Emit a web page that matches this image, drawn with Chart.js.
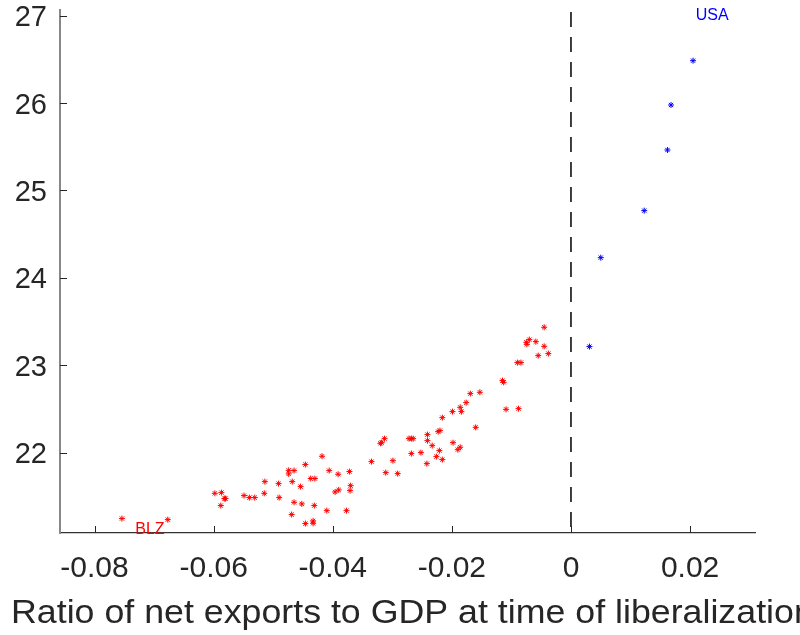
<!DOCTYPE html>
<html>
<head>
<meta charset="utf-8">
<script src="https://cdn.jsdelivr.net/npm/chart.js@4.4.1/dist/chart.umd.min.js"></script>
<style>
  html, body { margin: 0; padding: 0; background: #fff; }
  #wrap { width: 800px; height: 635px; position: relative; }
</style>
</head>
<body>
<div id="wrap"><canvas id="scatter"></canvas></div>
<script>
// countries that liberalized with a trade deficit (red) and a surplus (blue)
const deficitX = [
  -0.0754, -0.0677, -0.0598, -0.0587, -0.0580, -0.0582, -0.0588, -0.0549, -0.0540, -0.0531,
  -0.0515, -0.0514, -0.0491, -0.0490, -0.0474, -0.0465, -0.0474, -0.0468, -0.0446, -0.0454,
  -0.0465, -0.0452, -0.0469, -0.0446, -0.0433, -0.0433, -0.0431, -0.0437, -0.0430, -0.0418,
  -0.0406, -0.0391, -0.0410, -0.0396, -0.0390, -0.0372, -0.0370, -0.0371, -0.0377,
  -0.0335, -0.0311, -0.0299, -0.0291, -0.0320, -0.0318, -0.0313, -0.0272, -0.0268, -0.0265,
  -0.0268, -0.0252, -0.0242, -0.0241, -0.0241, -0.0233, -0.0226, -0.0221, -0.0216, -0.0223,
  -0.0220, -0.0216, -0.0199, -0.0186, -0.0184, -0.0176, -0.0169, -0.0153, -0.0160, -0.0198,
  -0.0190, -0.0186, -0.0115, -0.0113, -0.0109, -0.0088, -0.0090, -0.0084, -0.0075, -0.0074,
  -0.0070, -0.0059, -0.0045, -0.0045, -0.0055, -0.0038
];
const deficitY = [
  21.245, 21.233, 21.534, 21.542, 21.474, 21.474, 21.394, 21.508, 21.485, 21.485,
  21.534, 21.668, 21.645, 21.485, 21.797, 21.794, 21.756, 21.668, 21.863, 21.611,
  21.431, 21.413, 21.291, 21.188, 21.219, 21.191, 21.394, 21.703, 21.703, 21.958,
  21.794, 21.752, 21.336, 21.550, 21.573, 21.783, 21.622, 21.565, 21.336,
  21.897, 21.771, 21.908, 21.760, 22.106, 22.114, 22.160, 22.160, 22.160, 22.160,
  21.989, 22.000, 21.874, 22.206, 22.137, 22.080, 21.954, 22.023, 21.920, 22.240,
  22.252, 22.400, 22.469, 22.518, 22.469, 22.572, 22.675, 22.690, 22.289, 22.114,
  22.034, 22.061, 22.824, 22.804, 22.495, 22.503, 23.030, 23.030, 23.262, 23.239,
  23.293, 23.270, 23.434, 23.216, 23.110, 23.133
];
const surplusX = [0.0205, 0.0168, 0.0162, 0.0123, 0.0050, 0.0031];
const surplusY = [26.485, 25.978, 25.463, 24.769, 24.231, 23.213];

const noteText = ['USA', 'BLZ'];
const noteX = [0.0237, -0.0707];
const noteY = [27.0, 21.12];
const noteColor = ['#0000ff', '#ff0000'];

const xTicks = [-0.08, -0.06, -0.04, -0.02, 0, 0.02];
const xTickLabels = ['-0.08', '-0.06', '-0.04', '-0.02', '0', '0.02'];
const yTicks = [22, 23, 24, 25, 26, 27];
const yTickLabels = ['22', '23', '24', '25', '26', '27'];
const xMin = -0.0858, xMax = 0.0309;
const yMin = 21.08, yMax = 27.065;

const xTitle = 'Ratio of net exports to GDP at time of liberalization';
const ink = '#262626';
const FONT = "'Liberation Sans', Arial, sans-serif";

const toPoints = (xs, ys) => xs.map((x, i) => ({ x: x, y: ys[i] }));

// MATLAB style: tick marks point into the plot, text labels, x label
const extras = {
  id: 'extras',
  afterDatasetsDraw(chart) {
    const { ctx, chartArea: a, scales: { x, y } } = chart;
    ctx.save();
    ctx.strokeStyle = ink;
    ctx.lineWidth = 1;
    ctx.beginPath();
    xTicks.forEach(v => {
      const px = Math.round(x.getPixelForValue(v)) + 0.5;
      ctx.moveTo(px, a.bottom);
      ctx.lineTo(px, a.bottom - 7);
    });
    yTicks.forEach(v => {
      const py = Math.round(y.getPixelForValue(v)) + 0.5;
      ctx.moveTo(a.left, py);
      ctx.lineTo(a.left + 7, py);
    });
    ctx.stroke();

    ctx.font = '16px ' + FONT;
    ctx.textAlign = 'center';
    ctx.textBaseline = 'middle';
    noteText.forEach((t, i) => {
      ctx.fillStyle = noteColor[i];
      ctx.fillText(t, x.getPixelForValue(noteX[i]), y.getPixelForValue(noteY[i]));
    });

    ctx.font = '32.5px ' + FONT;
    ctx.fillStyle = ink;
    ctx.textAlign = 'left';
    ctx.textBaseline = 'alphabetic';
    ctx.translate(11, 623);
    ctx.scale(1.1, 1);
    ctx.fillText(xTitle, 0, 0);
    ctx.restore();
  }
};

new Chart(document.getElementById('scatter'), {
  type: 'scatter',
  data: {
    datasets: [
      {
        label: 'deficit',
        data: toPoints(deficitX, deficitY),
        pointStyle: 'star',
        pointRadius: 3,
        borderColor: '#ff0000',
        backgroundColor: '#ff0000',
        borderWidth: 1
      },
      {
        label: 'surplus',
        data: toPoints(surplusX, surplusY),
        pointStyle: 'star',
        pointRadius: 3,
        borderColor: '#0000ff',
        backgroundColor: '#0000ff',
        borderWidth: 1
      },
      {
        label: 'zero',
        type: 'line',
        data: [{ x: 0, y: yMax }, { x: 0, y: yMin }],
        borderColor: '#000',
        borderWidth: 1.5,
        borderDash: [15, 10],
        borderDashOffset: -2,
        pointRadius: 0
      }
    ]
  },
  options: {
    responsive: true,
    maintainAspectRatio: false,
    animation: false,
    layout: { padding: { top: 10, right: 45, left: 0, bottom: 0 } },
    plugins: { legend: { display: false }, tooltip: { enabled: false } },
    scales: {
      x: {
        type: 'linear',
        min: xMin,
        max: xMax,
        afterBuildTicks: s => { s.ticks = xTicks.map(v => ({ value: v })); },
        afterFit: s => { s.height = 102; s.paddingLeft = 0; s.paddingRight = 0; },
        grid: { display: false, drawTicks: false },
        border: { color: '#333', width: 1.3 },
        ticks: {
          padding: 18,
          color: ink,
          font: { family: FONT, size: 30 },
          callback: v => xTickLabels[xTicks.indexOf(v)]
        }
      },
      y: {
        min: yMin,
        max: yMax,
        afterBuildTicks: s => { s.ticks = yTicks.map(v => ({ value: v })); },
        afterFit: s => { s.width = 60; s.paddingTop = 0; s.paddingBottom = 0; },
        grid: { display: false, drawTicks: false },
        border: { color: '#888', width: 2 },
        ticks: {
          padding: 13,
          labelOffset: 2.5,
          color: ink,
          font: { family: FONT, size: 29 },
          callback: v => yTickLabels[yTicks.indexOf(v)]
        }
      }
    }
  },
  plugins: [extras]
});
</script>
</body>
</html>
